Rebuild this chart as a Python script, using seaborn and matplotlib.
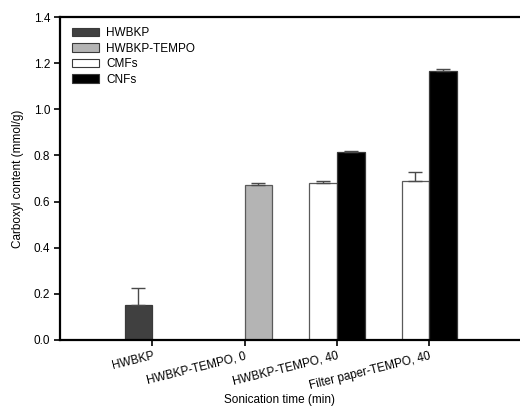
import matplotlib
matplotlib.use('Agg')
import matplotlib.pyplot as plt
import seaborn as sns
import pandas as pd
from matplotlib.patches import Patch

categories = ['HWBKP', 'HWBKP-TEMPO, 0', 'HWBKP-TEMPO, 40', 'Filter paper-TEMPO, 40']
series = ['HWBKP', 'HWBKP-TEMPO', 'CMFs', 'CNFs']
series_colors = ['#404040', '#b4b4b4', '#ffffff', '#000000']
series_slot = ['left', 'right', 'left', 'right']

bar_category = ['HWBKP', 'HWBKP-TEMPO, 0', 'HWBKP-TEMPO, 40', 'HWBKP-TEMPO, 40',
                'Filter paper-TEMPO, 40', 'Filter paper-TEMPO, 40']
bar_series = ['HWBKP', 'HWBKP-TEMPO', 'CMFs', 'CNFs', 'CMFs', 'CNFs']
bar_values = [0.150, 0.672, 0.680, 0.813, 0.690, 1.167]
bar_errors = [0.075, 0.008, 0.008, 0.007, 0.040, 0.008]

slot_of = dict(zip(series, series_slot))
color_of = dict(zip(series, series_colors))
df = pd.DataFrame({'category': bar_category, 'series': bar_series,
                   'value': bar_values, 'err': bar_errors})
df['slot'] = df['series'].map(slot_of)

sns.set_style('ticks')
plt.rcParams['font.family'] = ['Liberation Sans', 'DejaVu Sans']
plt.rcParams['text.color'] = 'black'
plt.rcParams['axes.labelcolor'] = 'black'
FS = 8.5

fig = plt.figure(figsize=(5.2, 4.07), dpi=100)
ax = fig.add_axes([60 / 520, 67 / 407, 461.5 / 520, 323 / 407])

sns.barplot(data=df, x='category', y='value', hue='slot', hue_order=['left', 'right'],
            order=categories, dodge=True, width=0.6, errorbar=None, legend=False,
            edgecolor='#3a3a3a', linewidth=0.9, ax=ax)

for p in list(ax.patches):
    h = p.get_height()
    if h != h or h == 0:
        continue
    cx = p.get_x() + p.get_width() / 2
    ci = int(round(cx))
    sl = 'left' if cx < ci else 'right'
    row = df[(df['category'] == categories[ci]) & (df['slot'] == sl)].iloc[0]
    p.set_facecolor(color_of[row['series']])
    ec = '#3a3a3a' if row['series'] in ('HWBKP', 'CNFs') else '#5a5a5a'
    p.set_edgecolor(ec)
    ax.errorbar(cx, h, yerr=[[0], [row['err']]], fmt='none', ecolor='#4a4a4a',
                elinewidth=1.0, capsize=5, capthick=1.0, zorder=1)

ax.set_xlim(-1, 4)
ax.set_ylim(0, 1.4)
ax.set_yticks([0, 0.2, 0.4, 0.6, 0.8, 1.0, 1.2, 1.4])
ax.set_yticklabels([f'{v:.1f}' for v in [0, 0.2, 0.4, 0.6, 0.8, 1.0, 1.2, 1.4]], fontsize=FS)
ax.set_xticks(range(len(categories)))
ax.set_xticklabels(categories, fontsize=FS, rotation=14, ha='right', rotation_mode='anchor')

for s in ['left', 'top', 'bottom']:
    ax.spines[s].set_visible(True)
    ax.spines[s].set_linewidth(1.6)
    ax.spines[s].set_color('black')
ax.spines['right'].set_visible(False)
ax.tick_params(axis='both', direction='out', length=4, width=1.2, color='black', labelcolor='black', pad=3)

ax.set_ylabel('Carboxyl content (mmol/g)', fontsize=FS, color='black')
ax.set_xlabel('Sonication time (min)', fontsize=FS, color='black')
ax.yaxis.set_label_coords(-0.079, 0.5)
ax.xaxis.set_label_coords(0.476, -0.166)

handles = [Patch(facecolor=color_of[s], edgecolor='#3a3a3a', linewidth=0.8) for s in series]
leg = ax.legend(handles, series, loc='upper left', bbox_to_anchor=(0.026, 0.969), frameon=False,
                fontsize=FS, handlelength=2.3, handleheight=0.75, labelspacing=0.3,
                handletextpad=0.6, borderpad=0.0, borderaxespad=0.0)
for t in leg.get_texts():
    t.set_color('black')

fig.savefig('out.png', dpi=100)
